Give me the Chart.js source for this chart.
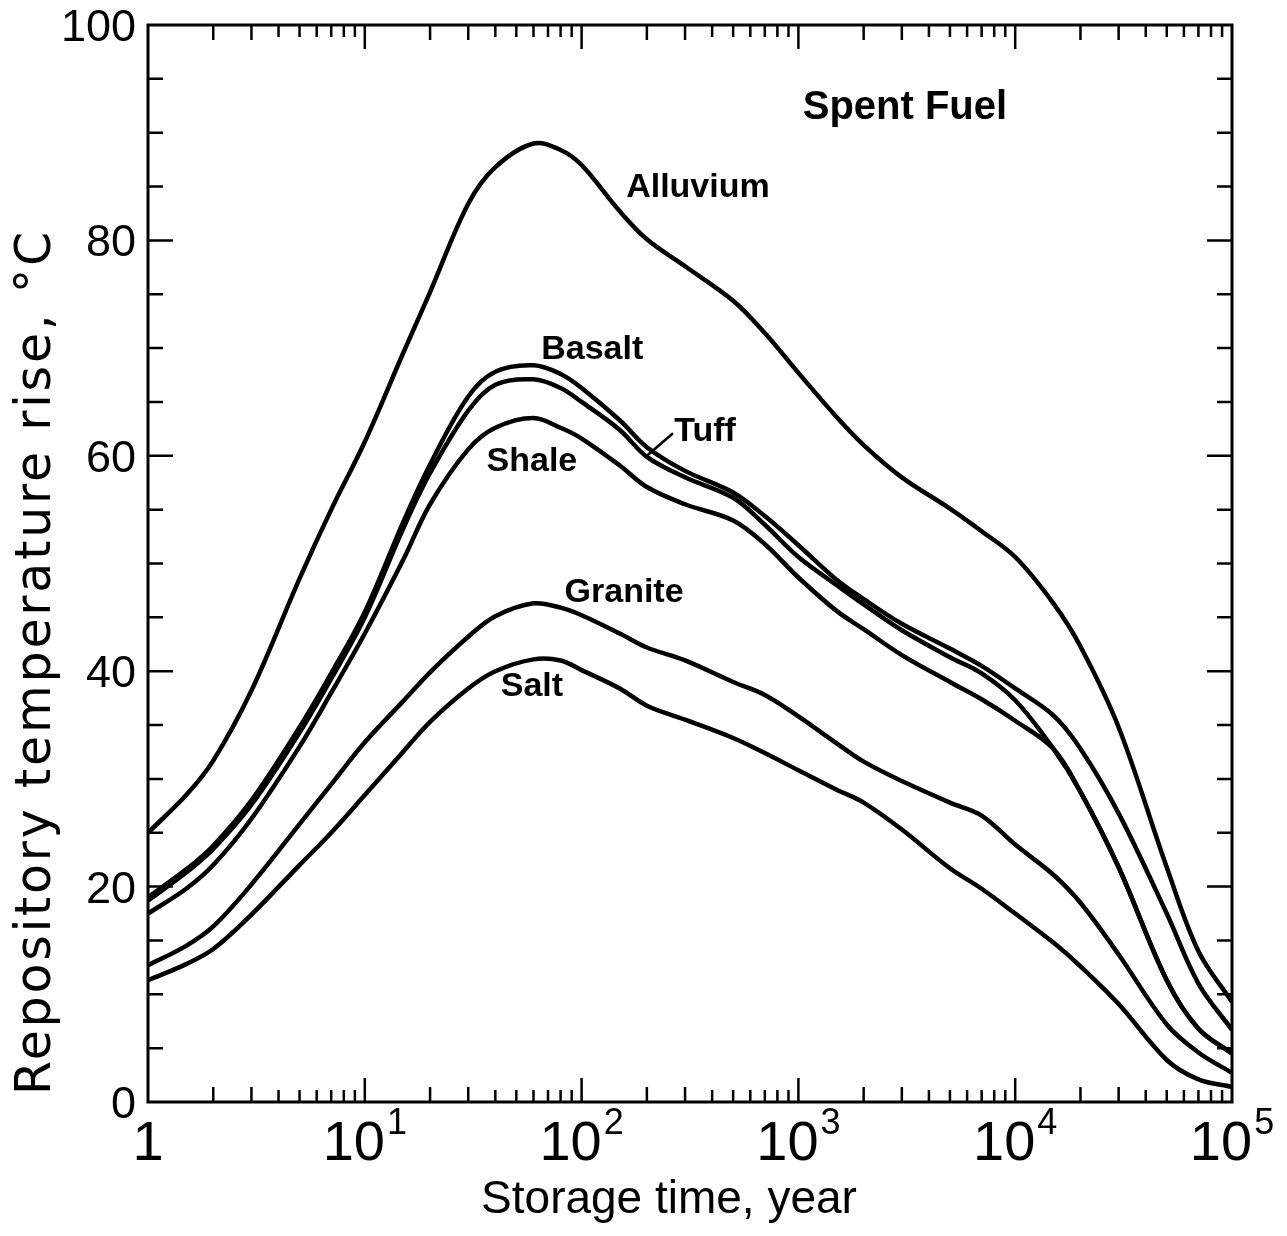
<!DOCTYPE html>
<html>
<head>
<meta charset="utf-8">
<script src="https://cdn.jsdelivr.net/npm/chart.js@4/dist/chart.umd.min.js"></script>
<style>
  html, body { margin: 0; padding: 0; background: #fff; }
</style>
</head>
<body>
<canvas id="plot" width="1287" height="1236"></canvas>
<script>
// storage time, years (log axis)
const years = [1, 1.5, 2, 3, 5, 7, 10, 15, 20, 30, 40, 60, 80, 100, 150, 200, 300, 500, 700,
    1000, 1500, 2000, 3000, 5000, 7000, 10000, 15000, 20000, 30000, 50000, 70000, 100000];

// repository temperature rise, deg C
const alluvium = [25.0, 28.5, 31.7, 38.2, 48.6, 55, 61.3, 69.5, 75.2, 83.4, 86.8, 89, 88.4, 87, 82.7, 80.1, 77.6, 74.4, 71.4,
    67.7, 63.6, 61, 58, 55.1, 53, 50.6, 46.3, 42.3, 34.8, 21.8, 14, 9.3];
const basalt = [19, 21.6, 23.8, 28, 34.8, 39.8, 45.5, 53.8, 59.2, 65.5, 67.8, 68.4, 67.6, 66.3, 63.3, 60.8, 58.6, 56.6, 54.4,
    51.7, 48.5, 46.7, 44.4, 42.1, 40.5, 38.4, 35.9, 32.8, 26.8, 17.5, 11, 6.7];
const tuff = [18.7, 21.3, 23.5, 27.6, 34.3, 39.3, 45, 53.2, 58.4, 64.2, 66.6, 67.1, 66.3, 65, 62.4, 59.9, 58, 56.1, 53.6,
    50.6, 48, 46.2, 43.8, 41.3, 39.8, 37.3, 32.8, 28.8, 21.8, 11.3, 6.8, 4.5];
const shale = [17.5, 19.8, 22, 26.3, 33, 38, 43.5, 50.3, 55.5, 60.6, 62.6, 63.5, 62.6, 61.6, 59.1, 57.1, 55.5, 54, 51.8,
    48.7, 45.6, 43.9, 41.5, 39, 37.4, 35.4, 32.8, 28.8, 21.8, 11.3, 6.8, 4.5];
const granite = [12.7, 14.5, 16.3, 20.2, 25.8, 29.5, 33.4, 37.2, 39.9, 43.2, 45.1, 46.3, 45.9, 45.2, 43.5, 42.2, 41, 39, 37.8,
    35.8, 33.3, 31.6, 29.8, 27.8, 26.6, 23.9, 21.1, 18.5, 13.7, 7.2, 4.6, 2.7];
const salt = [11.3, 12.8, 14.2, 17.4, 22, 25, 28.5, 32.5, 35.3, 38.4, 40, 41.1, 41, 40.1, 38.4, 36.8, 35.5, 33.8, 32.4,
    30.8, 29, 27.8, 25.3, 21.7, 19.8, 17.5, 14.8, 12.6, 9.1, 3.9, 2.1, 1.4];

const seriesNames = ["Alluvium", "Basalt", "Tuff", "Shale", "Granite", "Salt"];
const seriesValues = [alluvium, basalt, tuff, shale, granite, salt];

// axis ticks
const xTicks = [1, 10, 100, 1000, 10000, 100000];
const xTickLabels = [["1", ""], ["10", "1"], ["10", "2"], ["10", "3"], ["10", "4"], ["10", "5"]];
const yTicks = [0, 20, 40, 60, 80, 100];

// curve labels, placed in data units
const labelText = ["Spent Fuel", "Alluvium", "Basalt", "Tuff", "Shale", "Granite", "Salt"];
const labelX = [3100, 344, 112, 371, 59, 157, 59];
const labelY = [92.3, 84.9, 69.9, 62.2, 59.5, 47.3, 38.6];
// leader from the Tuff label down to its curve
const leaderX = [264, 200];
const leaderY = [62.1, 60.0];

const sans = '"Liberation Sans", Arial, sans-serif';

const paperPlugin = {
    id: 'paper',
    afterDatasetsDraw(chart) {
        const ctx = chart.ctx;
        const a = chart.chartArea;
        const x = chart.scales.x;
        const y = chart.scales.y;
        ctx.save();
        ctx.strokeStyle = '#000';
        ctx.fillStyle = '#000';

        // frame
        ctx.lineWidth = 3;
        ctx.strokeRect(a.left, a.top, a.right - a.left, a.bottom - a.top);

        // inward ticks on the log axis (top and bottom)
        ctx.lineWidth = 2.5;
        ctx.beginPath();
        for (let d = 0; d < 5; d++) {
            for (let m = 2; m <= 10; m++) {
                const v = m * Math.pow(10, d);
                if (v >= 100000) continue;
                const px = x.getPixelForValue(v);
                const len = m === 10 ? 24 : (m <= 3 ? 15 : 12);
                ctx.moveTo(px, a.bottom); ctx.lineTo(px, a.bottom - len);
                ctx.moveTo(px, a.top); ctx.lineTo(px, a.top + len);
            }
        }
        // inward ticks on the temperature axis (left and right)
        for (let v = 5; v < 100; v += 5) {
            const py = y.getPixelForValue(v);
            const len = v % 20 === 0 ? 25 : 15;
            ctx.moveTo(a.left, py); ctx.lineTo(a.left + len, py);
            ctx.moveTo(a.right, py); ctx.lineTo(a.right - len, py);
        }
        ctx.stroke();

        // y tick labels
        ctx.font = '45px ' + sans;
        ctx.textAlign = 'right';
        ctx.textBaseline = 'alphabetic';
        yTicks.forEach(v => {
            ctx.fillText(String(v), a.left - 12, y.getPixelForValue(v) + 16);
        });

        // x tick labels with superscript exponents
        const baseFont = '56px "Liberation Sans Narrow", ' + sans;
        const expFont = '36px "Liberation Sans Narrow", ' + sans;
        ctx.textAlign = 'left';
        xTicks.forEach((v, i) => {
            const [base, exp] = xTickLabels[i];
            ctx.font = baseFont;
            const wb = ctx.measureText(base).width;
            ctx.font = expFont;
            const we = exp ? ctx.measureText(exp).width + 2 : 0;
            const left = x.getPixelForValue(v) - (wb + we) / 2;
            ctx.font = baseFont;
            ctx.fillText(base, left, a.bottom + 58);
            if (exp) {
                ctx.font = expFont;
                ctx.fillText(exp, left + wb + 2, a.bottom + 32);
            }
        });

        // axis titles
        ctx.font = '46px ' + sans;
        ctx.textAlign = 'center';
        ctx.fillText('Storage time, year', 669, 1213);

        ctx.save();
        ctx.translate(50, 662);
        ctx.rotate(-Math.PI / 2);
        const yTitle = 'Repository temperature rise, \u00B0C';
        ctx.font = '49px "DejaVu Sans", ' + sans;
        const w = ctx.measureText(yTitle).width;
        ctx.letterSpacing = Math.max(0, (866 - w) / yTitle.length) + 'px';
        ctx.fillText(yTitle, 0, 0);
        ctx.restore();

        // curve labels
        labelText.forEach((t, i) => {
            ctx.font = (i === 0 ? 'bold 40px ' : 'bold 34px ') + sans;
            ctx.textAlign = 'center';
            ctx.textBaseline = 'middle';
            ctx.fillText(t, x.getPixelForValue(labelX[i]), y.getPixelForValue(labelY[i]));
        });

        // Tuff leader
        ctx.lineWidth = 2.5;
        ctx.beginPath();
        ctx.moveTo(x.getPixelForValue(leaderX[0]), y.getPixelForValue(leaderY[0]));
        ctx.lineTo(x.getPixelForValue(leaderX[1]), y.getPixelForValue(leaderY[1]));
        ctx.stroke();

        ctx.restore();
    }
};

const datasets = seriesNames.map((name, i) => ({
    label: name,
    data: years.map((t, j) => ({ x: t, y: seriesValues[i][j] })),
    borderColor: '#000',
    borderWidth: 4.5,
    pointRadius: 0,
    fill: false,
    tension: 0.35,
}));

new Chart('plot', {
    type: 'line',
    data: { datasets: datasets },
    options: {
        responsive: false,
        animation: false,
        layout: { padding: { top: 25, right: 55, left: 0, bottom: 0 } },
        scales: {
            x: {
                type: 'logarithmic',
                min: 1,
                max: 100000,
                ticks: { display: false },
                grid: { display: false },
                border: { display: false },
                afterFit: s => { s.height = 134; },
            },
            y: {
                type: 'linear',
                min: 0,
                max: 100,
                ticks: { display: false },
                grid: { display: false },
                border: { display: false },
                afterFit: s => { s.width = 148; },
            },
        },
        plugins: {
            legend: { display: false },
            tooltip: { enabled: false },
        },
    },
    plugins: [paperPlugin],
});
</script>
</body>
</html>
